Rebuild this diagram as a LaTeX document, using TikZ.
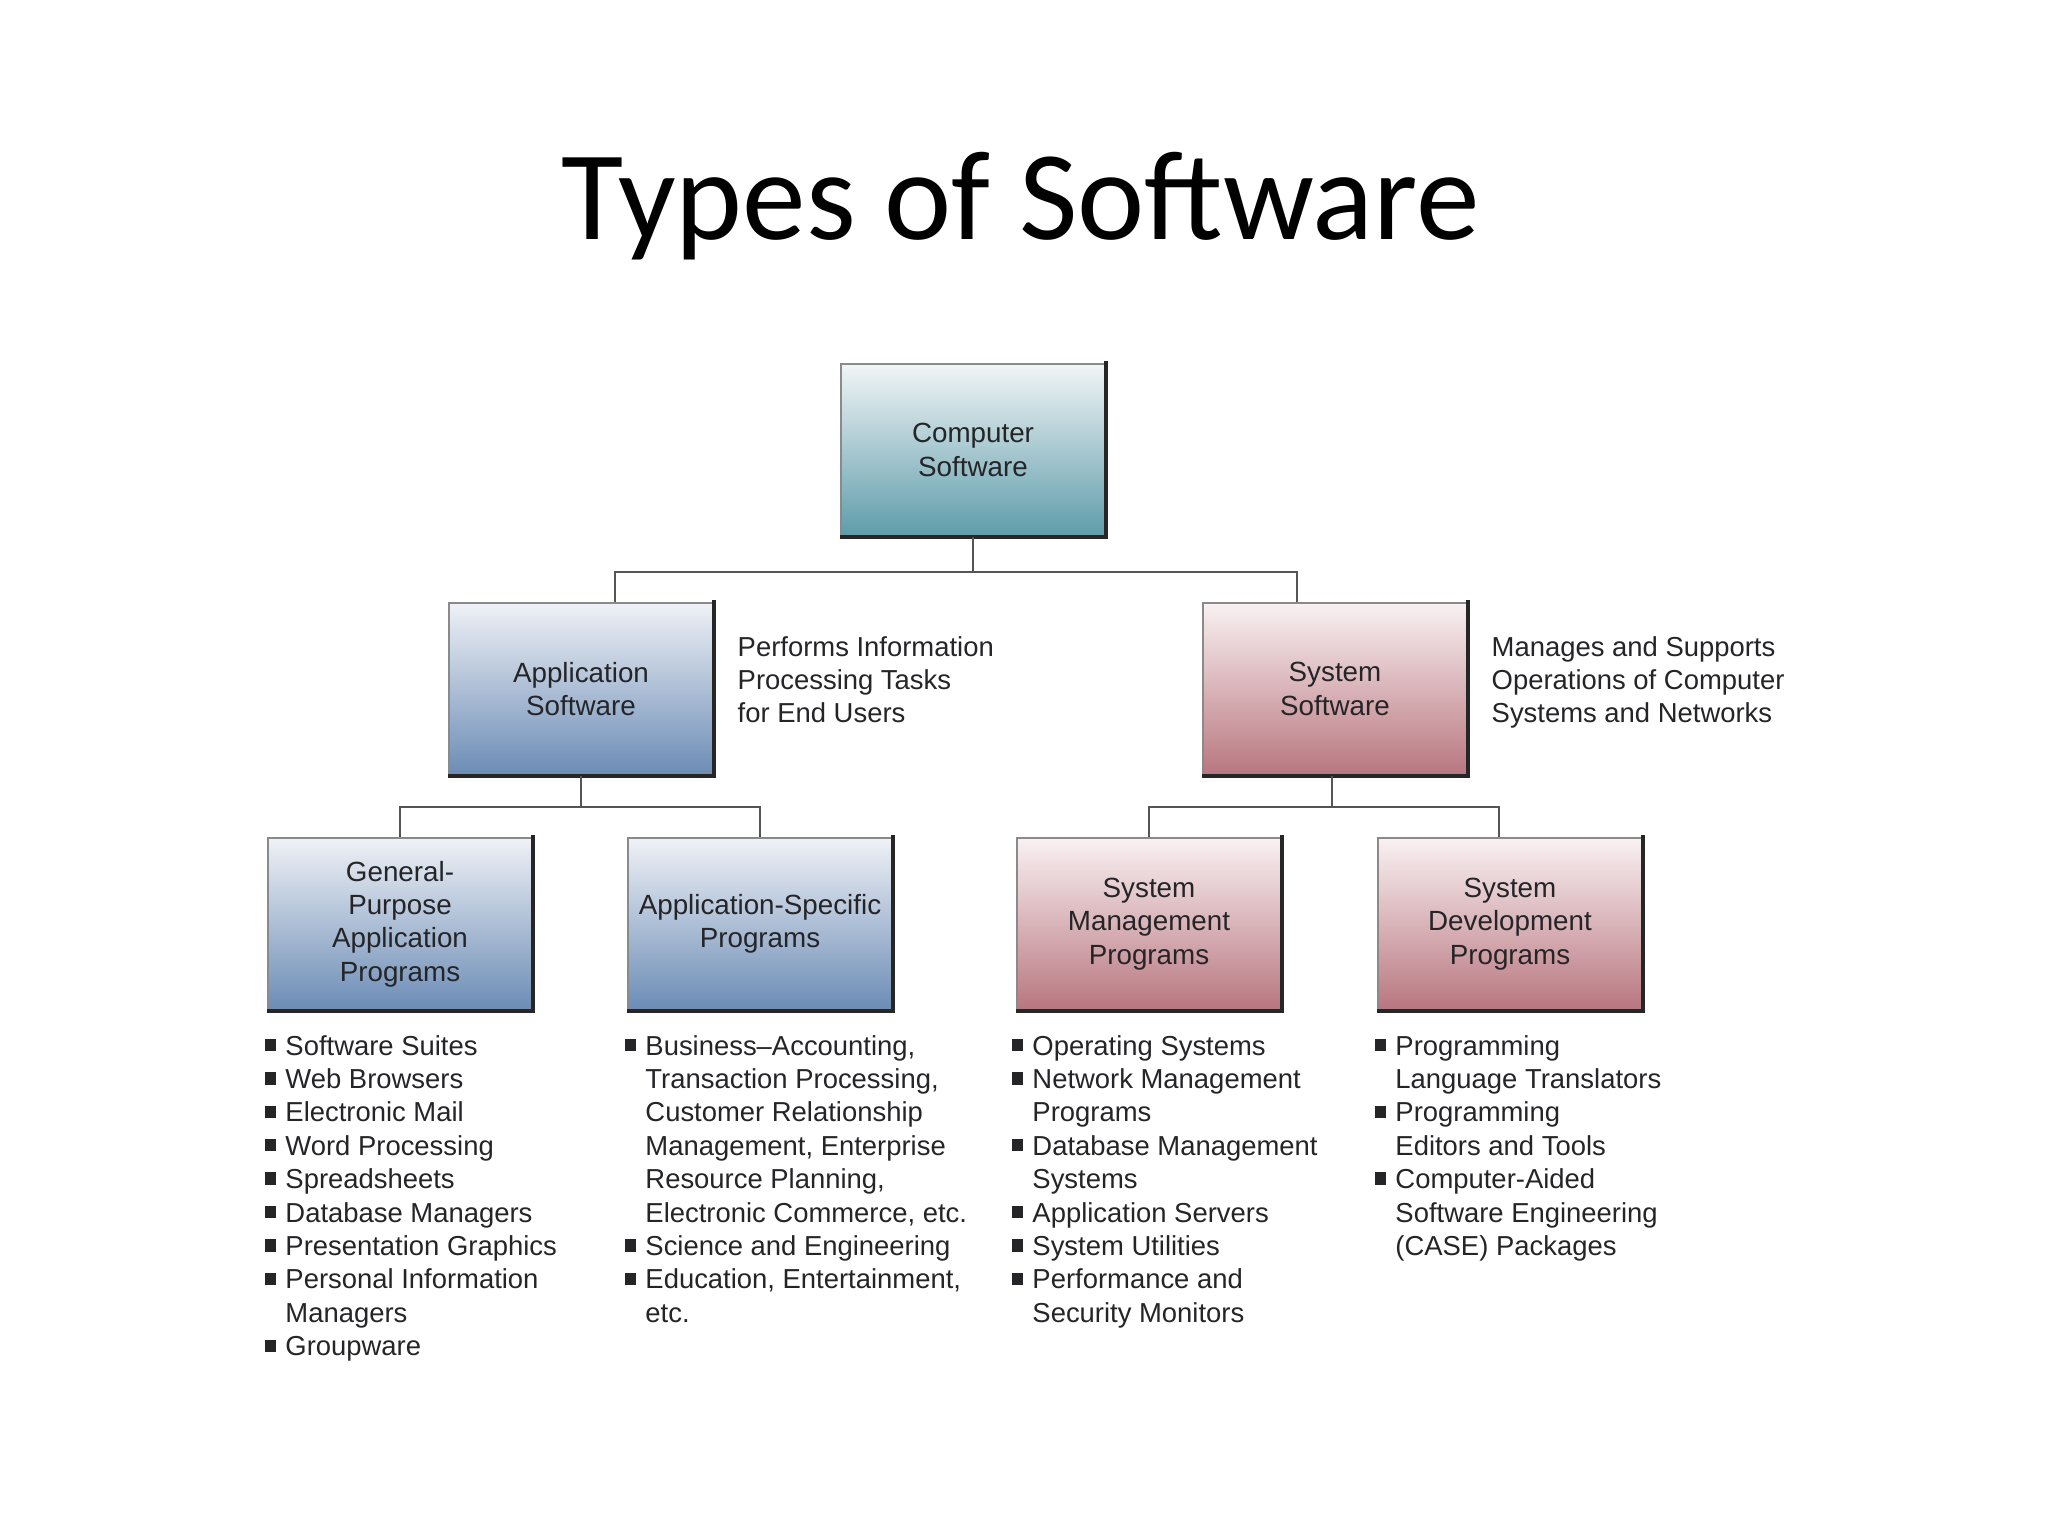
\documentclass[tikz,border=0pt]{standalone}
\usepackage{fontspec}
\setmainfont{Liberation Sans}
\newfontfamily\titlefont{Carlito}
\usetikzlibrary{positioning}

\definecolor{txt}{HTML}{252528}
\definecolor{tealtop}{HTML}{F1F5F6}
\definecolor{tealbot}{HTML}{5E9CAA}
\definecolor{bluetop}{HTML}{EFF1F6}
\definecolor{bluebot}{HTML}{6B8CB5}
\definecolor{redtop}{HTML}{F9F1F2}
\definecolor{redbot}{HTML}{B8767F}
\definecolor{edgegray}{HTML}{8A8A8A}
\definecolor{linegray}{HTML}{555555}

\newcommand{\bul}{\rule[1.1pt]{3.3pt}{3.5pt}}

\tikzset{
  box/.style={draw=edgegray, line width=0.5pt, minimum width=2.64cm, minimum height=1.72cm,
    inner sep=0pt, align=center, text=txt, font=\fontsize{7.9}{9.5}\selectfont,
    append after command={
      (\tikzlastnode.north east) edge[line width=1.1pt, draw=black!85, line cap=rect] (\tikzlastnode.south east)
      (\tikzlastnode.south east) edge[line width=1.1pt, draw=black!85] (\tikzlastnode.south west)}},
  tealbox/.style={box, top color=tealtop, bottom color=tealbot},
  bluebox/.style={box, top color=bluetop, bottom color=bluebot},
  redbox/.style={box, top color=redtop, bottom color=redbot},
  conn/.style={draw=linegray, line width=0.55pt},
  list/.style={anchor=base west, inner sep=0pt, text=txt, font=\fontsize{7.8}{9.5}\selectfont},
}

\begin{document}
\begin{tikzpicture}[x=0.01cm, y=-0.01cm]
        \useasboundingbox[fill=white] (0,0) rectangle (2048,1536);

        \node[font=\titlefont\fontsize{36.2}{40}\selectfont, anchor=base] (title) at (1021,239) {Types of Software};

        % Boxes
        \node[tealbox] (comp) at (973,450) {Computer\\Software};
        \node[bluebox] (app) at (581,689) {Application\\Software};
        \node[redbox] (sys) at (1335,689) {System\\Software};
        \node[bluebox] (gp) at (400,924) {General-\\Purpose\\Application\\Programs};
        \node[bluebox] (as) at (760,924) {Application-Specific\\Programs};
        \node[redbox] (sm) at (1149,924) {System\\Management\\Programs};
        \node[redbox] (sd) at (1510,924) {System\\Development\\Programs};

        % Connectors
        \coordinate (cbar) at (973,572);
        \coordinate (abar) at (581,807);
        \coordinate (sbar) at (1332,807);
        \draw[conn] (comp.south) -- (cbar);
        \draw[conn] ([xshift=.34cm]app.north) |- (cbar) -| ([xshift=-.38cm]sys.north);
        \draw[conn] (app.south) -- (abar);
        \draw[conn] (gp.north) |- (abar) -| (as.north);
        \draw[conn] (sys.south -| sbar) -- (sbar);
        \draw[conn] (sm.north) |- (sbar) -| ([xshift=-.11cm]sd.north);

        % Notes
        \node[list] (appnote) at (737,656) {\begin{tabular}[t]{@{}l@{}}Performs Information\\Processing Tasks\\for End Users\end{tabular}};
        \node[list] (sysnote) at (1491,656) {\begin{tabular}[t]{@{}l@{}}Manages and Supports\\Operations of Computer\\Systems and Networks\end{tabular}};

        % Lists
        \node[list] (gplist) at (264,1055) {\begin{tabular}[t]{@{}l@{\hspace{2.6pt}}l@{}}
          \bul & Software Suites\\
          \bul & Web Browsers\\
          \bul & Electronic Mail\\
          \bul & Word Processing\\
          \bul & Spreadsheets\\
          \bul & Database Managers\\
          \bul & Presentation Graphics\\
          \bul & Personal Information\\
               & Managers\\
          \bul & Groupware
        \end{tabular}};
        \node[list] (aslist) at (624,1055) {\begin{tabular}[t]{@{}l@{\hspace{2.6pt}}l@{}}
          \bul & Business--Accounting,\\
               & Transaction Processing,\\
               & Customer Relationship\\
               & Management, Enterprise\\
               & Resource Planning,\\
               & Electronic Commerce, etc.\\
          \bul & Science and Engineering\\
          \bul & Education, Entertainment,\\
               & etc.
        \end{tabular}};
        \node[list] (smlist) at (1011,1055) {\begin{tabular}[t]{@{}l@{\hspace{2.6pt}}l@{}}
          \bul & Operating Systems\\
          \bul & Network Management\\
               & Programs\\
          \bul & Database Management\\
               & Systems\\
          \bul & Application Servers\\
          \bul & System Utilities\\
          \bul & Performance and\\
               & Security Monitors
        \end{tabular}};
        \node[list] (sdlist) at (1374,1055) {\begin{tabular}[t]{@{}l@{\hspace{2.6pt}}l@{}}
          \bul & Programming\\
               & Language Translators\\
          \bul & Programming\\
               & Editors and Tools\\
          \bul & Computer-Aided\\
               & Software Engineering\\
               & (CASE) Packages
        \end{tabular}};
      \end{tikzpicture}
\end{document}
